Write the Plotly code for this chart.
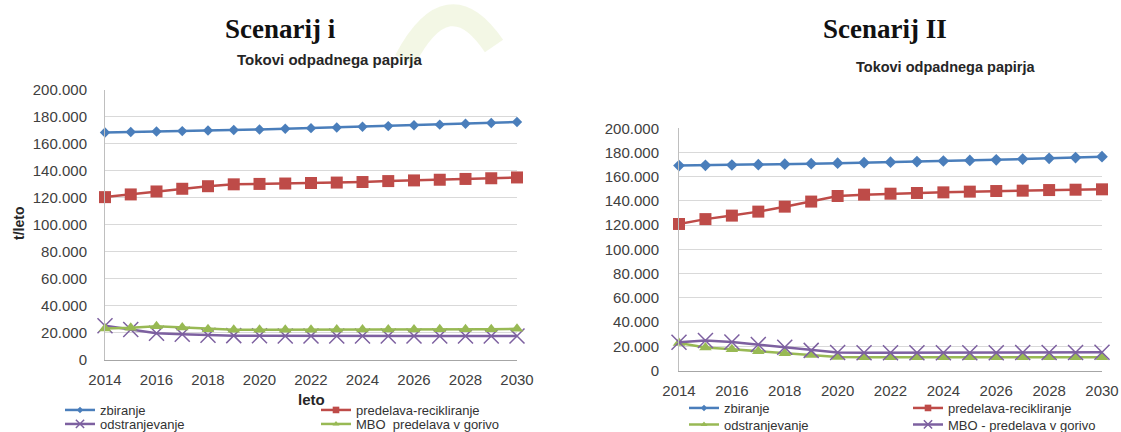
# TOKOVI ODPADNEGA PAPIRJA - TWO SCENARIOS SIDE BY SIDE
# =====================================================

# LIBRARIES AND MODULES
# ----------------------
import plotly.graph_objects as charts

# DATA (t/leto)
# ----------------------------------------------
years = [2014, 2015, 2016, 2017, 2018, 2019, 2020, 2021, 2022,
         2023, 2024, 2025, 2026, 2027, 2028, 2029, 2030]

# Scenarij i
zbiranje1 = [168500, 168800, 169200, 169500, 169900, 170300, 170700, 171200, 171700,
             172200, 172700, 173200, 173800, 174300, 174900, 175500, 176200]
predelava1 = [120500, 122500, 124700, 126700, 128600, 130000, 130300, 130600, 131000,
              131300, 131700, 132400, 132900, 133400, 134000, 134500, 135100]
odstranjevanje1 = [25000, 22300, 19500, 18700, 18000, 17700, 17600, 17500, 17500,
                   17500, 17500, 17500, 17500, 17400, 17400, 17400, 17400]
mbo1 = [23000, 23500, 24700, 23800, 22500, 22000, 22000, 22000, 22000,
        22200, 22200, 22300, 22300, 22400, 22400, 22500, 22800]

# Scenarij II
zbiranje2 = [169200, 169400, 169700, 170000, 170400, 170800, 171200, 171600, 172000,
             172500, 173000, 173500, 174000, 174600, 175200, 175800, 176600]
predelava2 = [121000, 125000, 127900, 131200, 135300, 139500, 144100, 145200, 146000,
              146600, 147100, 147700, 148200, 148500, 149000, 149300, 149600]
odstranjevanje2 = [22800, 19000, 17500, 15800, 14200, 12700, 11200, 11000, 11000,
                   11000, 11000, 11000, 11000, 11000, 11000, 11000, 11000]
mbo2 = [23300, 24800, 23600, 21400, 19200, 16600, 14800, 14700, 14700,
        14700, 14700, 14700, 14700, 14800, 14800, 14800, 15000]

# Texts
headings = ['Scenarij i', 'Scenarij II']
subTitle = 'Tokovi odpadnega papirja'
namesLeft = ['zbiranje', 'predelava-recikliranje', 'odstranjevanje', 'MBO  predelava v gorivo']
namesRight = ['zbiranje', 'predelava-recikliranje', 'odstranjevanje', 'MBO - predelava v gorivo']

# STYLES
# ------
W, H = 1121, 432
blue, red, green, purple = '#4a7ebb', '#be4b48', '#98b954', '#7d60a0'
tickColor = '#404040'
labelFont = 'Liberation Sans, Arial, sans-serif'


def px(x):
    return x / W


def py(y):
    return 1 - y / H


def addSeries(fig, xName, yName, values, name, color, symbol, size, legendName, markerLine=0):
    """Adds one line with markers plus a small-marker legend entry"""
    marker = dict(symbol=symbol, size=size, color=color, line=dict(color=color, width=markerLine))
    fig.add_trace(charts.Scatter(
        x=years, y=values, mode='lines+markers', xaxis=xName, yaxis=yName,
        line=dict(color=color, width=2.5), marker=marker, cliponaxis=False,
        showlegend=False, hoverinfo='skip'))
    smallMarker = dict(symbol=symbol, size=max(5, size * 0.55), color=color,
                       line=dict(color=color, width=markerLine))
    fig.add_trace(charts.Scatter(
        x=[None], y=[None], mode='lines+markers', xaxis=xName, yaxis=yName,
        line=dict(color=color, width=2.5), marker=smallMarker, name=name,
        legend=legendName, showlegend=True))


fig = charts.Figure()

# Left chart (Scenarij i)
addSeries(fig, 'x', 'y', zbiranje1, namesLeft[0], blue, 'diamond', 8, 'legend')
addSeries(fig, 'x', 'y', predelava1, namesLeft[1], red, 'square', 12, 'legend')
addSeries(fig, 'x', 'y', odstranjevanje1, namesLeft[2], purple, 'x-thin', 15, 'legend2', 1.5)
addSeries(fig, 'x', 'y', mbo1, namesLeft[3], green, 'triangle-up', 11, 'legend2')

# Right chart (Scenarij II)
addSeries(fig, 'x2', 'y2', zbiranje2, namesRight[0], blue, 'diamond', 9, 'legend3')
addSeries(fig, 'x2', 'y2', predelava2, namesRight[1], red, 'square', 12, 'legend3')
addSeries(fig, 'x2', 'y2', odstranjevanje2, namesRight[2], green, 'triangle-up', 11, 'legend4')
addSeries(fig, 'x2', 'y2', mbo2, namesRight[3], purple, 'x-thin', 15, 'legend4', 1.5)

xCommon = dict(range=[2014, 2030], tickmode='linear', tick0=2014, dtick=2,
               showgrid=False, zeroline=False, showline=True, linecolor='#a6a6a6',
               linewidth=1, ticks='', ticklabelstandoff=6, automargin=False,
               tickfont=dict(family=labelFont, size=15, color=tickColor), fixedrange=True)
yCommon = dict(range=[0, 200000], tickmode='linear', tick0=0, dtick=20000, tickformat=',d',
               showgrid=True, gridcolor='#d9d9d9', gridwidth=1, zeroline=False,
               showline=True, linecolor='#bfbfbf', linewidth=1, ticks='', automargin=False,
               tickfont=dict(family=labelFont, size=15, color=tickColor), fixedrange=True)

legendCommon = dict(orientation='h', xanchor='left', yanchor='middle', bgcolor='rgba(0,0,0,0)',
                    font=dict(family=labelFont, size=13, color='#333333'),
                    itemclick=False, itemdoubleclick=False, tracegroupgap=0)

fig.update_layout(
    width=W, height=H,
    margin=dict(l=0, r=0, t=0, b=0, autoexpand=False),
    paper_bgcolor='white', plot_bgcolor='white',
    separators=',.',
    showlegend=True,
    xaxis=dict(domain=[px(105), px(517)], anchor='y', **xCommon),
    yaxis=dict(domain=[py(359.5), py(90)], anchor='x', ticklabelstandoff=14, **yCommon),
    xaxis2=dict(domain=[px(679), px(1102)], anchor='y2', **xCommon),
    yaxis2=dict(domain=[py(370.5), py(128.3)], anchor='x2', ticklabelstandoff=16, **yCommon),
    legend=dict(x=px(60), y=py(410), entrywidth=211, **legendCommon),
    legend2=dict(x=px(60), y=py(424), entrywidth=211, **legendCommon),
    legend3=dict(x=px(684), y=py(408), entrywidth=179, **legendCommon),
    legend4=dict(x=px(684), y=py(424.5), entrywidth=179, **legendCommon),
)

# Faint watermark arch behind the first heading
fig.add_shape(type='path', xref='paper', yref='paper', layer='below',
              path=f'M {px(405)},{py(60)} Q {px(448)},{py(-22)} {px(494)},{py(46)}',
              line=dict(color='rgba(214,228,170,0.3)', width=22))

# Headings, sub titles and axis titles
annotations = [
    dict(text=f'<b>{headings[0]}</b>', x=px(280), y=py(29)),
    dict(text=f'<b>{headings[1]}</b>', x=px(885), y=py(29)),
]
for a in annotations:
    a.update(font=dict(family='Liberation Serif, serif', size=27, color='#111111'))
annotations += [
    dict(text=f'<b>{subTitle}</b>', x=px(329), y=py(60),
         font=dict(family=labelFont, size=15, color='#262626')),
    dict(text=f'<b>{subTitle}</b>', x=px(946), y=py(67),
         font=dict(family=labelFont, size=14.5, color='#262626')),
    dict(text='<b>leto</b>', x=px(312), y=py(399),
         font=dict(family=labelFont, size=15, color='#262626')),
    dict(text='<b>t/leto</b>', x=px(19), y=py(224), textangle=-90,
         font=dict(family=labelFont, size=14, color='#262626')),
]
for a in annotations:
    a.update(xref='paper', yref='paper', showarrow=False, xanchor='center', yanchor='middle')
fig.update_layout(annotations=annotations)

# The page body has a default margin; drop it so the figure fills the window
fig.write_html('out.html', config={'displayModeBar': False},
               post_script="document.body.style.margin='0';")
